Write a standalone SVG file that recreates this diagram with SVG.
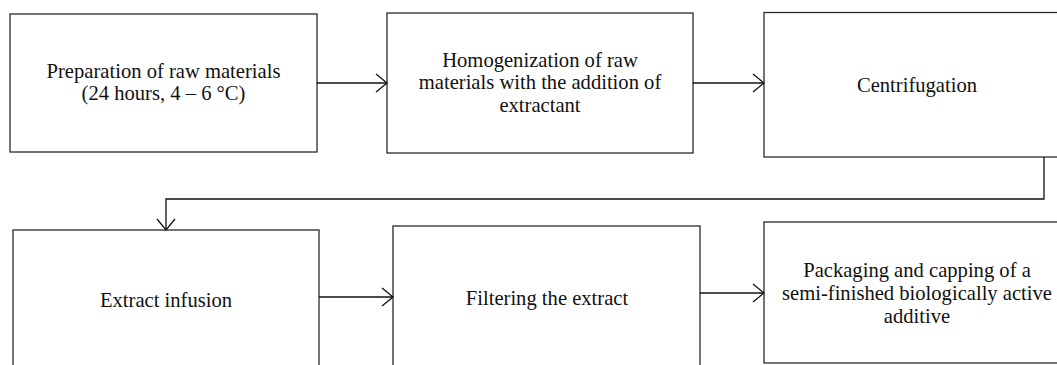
<svg xmlns="http://www.w3.org/2000/svg" width="1057" height="365" viewBox="0 0 1057 365">
<style>
.box{fill:#fff;stroke:#2a2a2a;stroke-width:1.3}
.t{font-family:"Liberation Serif","Times New Roman",serif;font-size:20.6px;fill:#111;text-anchor:middle}
.c{fill:none;stroke:#111;stroke-width:1.3}
</style>
<defs>
<marker id="arr" markerUnits="userSpaceOnUse" markerWidth="14" markerHeight="20" viewBox="0 0 14 20" refX="12" refY="10" orient="auto">
<path d="M1,1 L12,10 L1,19" fill="none" stroke="#111" stroke-width="1.3"/>
</marker>
</defs>
<rect width="1057" height="365" fill="#fff"/>
<g id="n1"><rect class="box" x="10" y="14" width="307" height="138"/><text class="t" x="163.5" y="77.5">Preparation of raw materials</text><text class="t" x="163.5" y="100.3">(24 hours, 4 – 6 °C)</text></g>
<g id="n2"><rect class="box" x="387" y="13" width="306" height="140"/><text class="t" x="540" y="66.5">Homogenization of raw</text><text class="t" x="540" y="89.3">materials with the addition of</text><text class="t" x="540" y="112.1">extractant</text></g>
<g id="n3"><rect class="box" x="764" y="12.5" width="306" height="144.5"/><text class="t" x="917" y="92">Centrifugation</text></g>
<g id="n4"><rect class="box" x="13" y="230" width="306" height="150"/><text class="t" x="166" y="307">Extract infusion</text></g>
<g id="n5"><rect class="box" x="393" y="226" width="307" height="150"/><text class="t" x="547" y="305">Filtering the extract</text></g>
<g id="n6"><rect class="box" x="764" y="222" width="306" height="141"/><text class="t" x="917" y="277">Packaging and capping of a</text><text class="t" x="917" y="299.8">semi-finished biologically active</text><text class="t" x="917" y="322.6">additive</text></g>
<g id="connectors">
<path class="c" d="M317,83 H387" marker-end="url(#arr)"/>
<path class="c" d="M693,83 H764" marker-end="url(#arr)"/>
<path class="c" d="M1044,157 V199 H166 V230" marker-end="url(#arr)"/>
<path class="c" d="M319,297 H393" marker-end="url(#arr)"/>
<path class="c" d="M700,293 H764" marker-end="url(#arr)"/>
</g>
</svg>
